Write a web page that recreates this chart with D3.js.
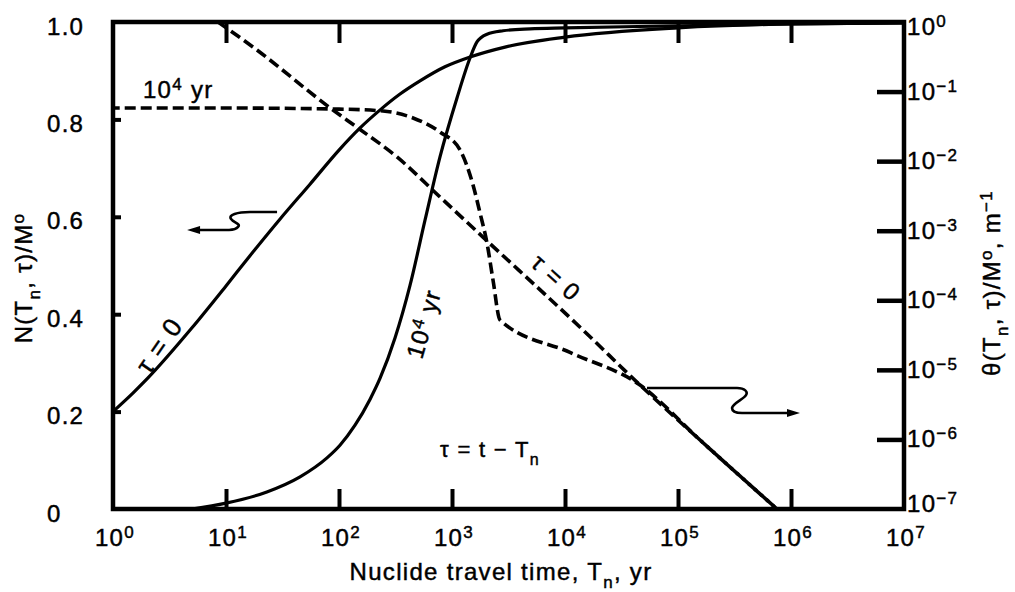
<!DOCTYPE html>
<html><head><meta charset="utf-8">
<script src="https://cdn.jsdelivr.net/npm/d3@7/dist/d3.min.js"></script>
<style>
html,body{margin:0;padding:0;background:#fff;}
svg{display:block;}
text{font-family:"Liberation Sans",Arial,Helvetica,sans-serif;fill:#000;stroke:#000;stroke-width:0.45px;letter-spacing:1.3px;}
</style></head><body>
<svg id="chart" width="1015" height="592"></svg>
<script>
// ---------- tick labels ----------
const xTickValues=[1,10,100,1000,1e4,1e5,1e6,1e7];
const xTickExponents=["0","1","2","3","4","5","6","7"];
const leftTickValues=[0,0.2,0.4,0.6,0.8,1.0];
const leftTickLabels=["0","0.2","0.4","0.6","0.8","1.0"];
const rightTickValues=[1,1e-1,1e-2,1e-3,1e-4,1e-5,1e-6,1e-7];
const rightTickExponents=["0","−1","−2","−3","−4","−5","−6","−7"];

// ---------- solid curves: N(Tn,tau)/M0 (left axis) ----------
const nTau0T=[1,1.5,2,5,10,16.3,30,55.4,100,153,230,347,521,866,1443,3006,1e4,1e5,1e6,1e7];
const nTau0N=[0.2,0.238,0.267,0.372,0.458,0.52,0.595,0.667,0.737,0.782,0.819,0.852,0.879,0.908,0.928,0.949,0.969,0.988,0.996,0.998];
const nTau1e4T=[5,10,23,45.2,78.3,102,138.6,188,230.5,313,425,577,783,1107,1443,1663,2042,2826,4898,1e4,1e5,1e6,1e7];
const nTau1e4N=[0,0.012,0.035,0.066,0.105,0.131,0.172,0.225,0.268,0.351,0.459,0.593,0.723,0.844,0.926,0.959,0.975,0.982,0.986,0.988,0.992,0.996,0.998];

// ---------- dashed curves: theta(Tn,tau)/M0 (right axis) ----------
const thTau0T=[8.5,17.3,88.5,147,326,783,1880,14430,46100,156700,751000];
const thTau0V=[1,0.438,0.0543,0.030,0.0115,3.05e-3,8.1e-4,3.74e-5,6.05e-6,9.8e-7,1e-7];
const thTau1e4T=[1,10,100,245,452,783,1178,1535,1770,2040,2306,2660,11070,46100,156700,751000];
const thTau1e4V=[0.058,0.058,0.056,0.0526,0.0417,0.0262,0.0145,4.54e-3,1.80e-3,6.65e-4,1.96e-4,5.2e-5,1.78e-5,6.05e-6,9.8e-7,1e-7];
const mergeT=46100; // where the two dashed curves coincide

// ---------- texts ----------
const xTitle=[["Nuclide travel time, T"],["n","sub"],[", yr"]];
const leftTitle=[["N(T"],["n","sub"],[", τ)/M"],["o","sup"]];
const rightTitle=[["θ(T"],["n","sub"],[", τ)/M"],["o","sup"],[", m"],["−1","sup"]];
const annotations=[
  {T:1.84,v:0.844,axis:"N",angle:0,anchor:"start",size:24,dy:0,parts:[["10"],["4","sup"],[" yr"]]},
  {T:2.61,v:0.335,axis:"N",angle:-55,anchor:"middle",size:26,dy:8,parts:[["τ = 0"]]},
  {T:565,v:0.38,axis:"N",angle:-74,anchor:"middle",size:24,dy:8,parts:[["10"],["4","sup"],[" yr"]]},
  {T:8320,v:2.09e-4,axis:"th",angle:42,anchor:"middle",size:24,dy:8,parts:[["τ = 0"]]},
  {T:783,v:0.107,axis:"N",angle:0,anchor:"start",size:22,dy:0,parts:[["τ = t − T"],["n","sub"]]}
];
const arrows=[
  {T:28.3,v:0.61,axis:"N",
   path:"M0,0 L-27,0 C-40,0 -49,3 -46,7 C-43,11 -36,12 -39,15 C-41,17.5 -44,18 -48,18 L-78,18",
   head:"M-90,18 L-77,14 L-77,22 Z"},
  {T:53200,v:5.48e-6,axis:"th",
   path:"M0,0 L90,0 C98,0 101,4 99,7 C97,11 86,15 85,20 C85,24 90,25 95,25 L141,25",
   head:"M153,25 L140,21 L140,29 Z"}
];

// ---------- layout ----------
const X0=113,X1=904,Y0=509,Y1=22;
const svg=d3.select("#chart");
const x=d3.scaleLog().domain([1,1e7]).range([X0,X1]);
const yN=d3.scaleLinear().domain([0,1]).range([Y0,Y1]);
const yT=d3.scaleLog().domain([1e-7,1]).range([Y0,Y1]);

svg.append("defs").append("clipPath").attr("id","plot")
  .append("rect").attr("x",X0).attr("y",Y1).attr("width",X1-X0).attr("height",Y0-Y1);

function rich(sel,parts,base){
  let shift=0;
  parts.forEach(p=>{
    const target=p[1]==="sup"?-8:p[1]==="sub"?8:0;
    const ts=sel.append("tspan").text(p[0]).attr("dy",target-shift);
    if(p[1]) ts.attr("font-size",Math.round(base*0.72));
    shift=target;
  });
}

// ---------- curves ----------
const gc=svg.append("g").attr("clip-path","url(#plot)");
const lineN=d3.line().x(d=>x(d[0])).y(d=>yN(d[1])).curve(d3.curveMonotoneX);
const lineTh=d3.line().x(d=>x(d[0])).y(d=>yT(d[1])).curve(d3.curveMonotoneX);

const nTau0=nTau0T.map((t,i)=>[t,nTau0N[i]]);
const nTau1e4=nTau1e4T.map((t,i)=>[t,nTau1e4N[i]]);
const thTau0=thTau0T.map((t,i)=>[t,thTau0V[i]]);
const thTau1e4=thTau1e4T.map((t,i)=>[t,thTau1e4V[i]]);

[nTau0,nTau1e4].forEach(d=>{
  gc.append("path").attr("d",lineN(d)).attr("fill","none").attr("stroke","#000")
    .attr("stroke-width",3.2).attr("stroke-linejoin","round");
});

const DASH=11,GAP=5,P=DASH+GAP;
function lenOf(pts){
  const p=svg.append("path").attr("d",lineTh(pts));
  const L=p.node().getTotalLength(); p.remove(); return L;
}
const L1=lenOf(thTau0.slice(0,thTau0T.indexOf(mergeT)+1));
const L2=lenOf(thTau1e4.slice(0,thTau1e4T.indexOf(mergeT)+1));
const off=(((L1+P/2-L2)%P)+P)%P;

gc.append("path").attr("d",lineTh(thTau0)).attr("fill","none").attr("stroke","#000")
  .attr("stroke-width",3.6).attr("stroke-dasharray",DASH+","+GAP);
gc.append("path").attr("d",lineTh(thTau1e4)).attr("fill","none").attr("stroke","#000")
  .attr("stroke-width",3.6).attr("stroke-dasharray",DASH+","+GAP).attr("stroke-dashoffset",off);

// ---------- axes (ticks) ----------
const tickStyle=(g,w)=>{g.select(".domain").remove();
  g.selectAll(".tick line").attr("stroke","#000").attr("stroke-width",w);
  g.selectAll(".tick text").remove();};
const inner=xTickValues.slice(1,-1);
svg.append("g").attr("transform",`translate(0,${Y0})`)
  .call(d3.axisBottom(x).tickValues(inner).tickSize(-20).tickFormat(()=>"")).call(g=>tickStyle(g,4));
svg.append("g").attr("transform",`translate(0,${Y1})`)
  .call(d3.axisTop(x).tickValues(inner).tickSize(-21).tickFormat(()=>"")).call(g=>tickStyle(g,4));
svg.append("g").attr("transform",`translate(${X0},0)`)
  .call(d3.axisLeft(yN).tickValues(leftTickValues.slice(1,-1)).tickSize(-8).tickFormat(()=>"")).call(g=>tickStyle(g,4));
svg.append("g").attr("transform",`translate(${X1},0)`)
  .call(d3.axisRight(yT).tickValues(rightTickValues.slice(1,-1)).tickSize(-27).tickFormat(()=>"")).call(g=>tickStyle(g,4.5));

// frame
svg.append("rect").attr("x",X0).attr("y",Y1).attr("width",X1-X0).attr("height",Y0-Y1)
  .attr("fill","none").attr("stroke","#000").attr("stroke-width",4.5);

// ---------- tick labels ----------
svg.append("g").selectAll("text").data(xTickValues).join("text")
  .attr("x",d=>x(d)+2).attr("y",546).attr("text-anchor","middle").attr("font-size",24)
  .each(function(d,i){rich(d3.select(this),[["10"],[xTickExponents[i],"sup"]],24);});
svg.append("g").selectAll("text").data(leftTickValues).join("text")
  .attr("x",47).attr("y",d=>yN(d)+12.5).attr("font-size",24)
  .text((d,i)=>leftTickLabels[i]);
svg.append("g").selectAll("text").data(rightTickValues).join("text")
  .attr("x",907).attr("y",d=>Math.max(35,Math.min(512,yT(d)+8))).attr("font-size",24)
  .each(function(d,i){rich(d3.select(this),[["10"],[rightTickExponents[i],"sup"]],24);});

// ---------- axis titles ----------
rich(svg.append("text").attr("x",501).attr("y",580).attr("text-anchor","middle").attr("font-size",24),xTitle,24);
rich(svg.append("text").attr("transform","translate(32,278) rotate(-90)").attr("text-anchor","middle").attr("font-size",24),leftTitle,24);
rich(svg.append("text").attr("transform","translate(1000,283) rotate(-90)").attr("text-anchor","middle").attr("font-size",24),rightTitle,24);

// ---------- annotations ----------
annotations.forEach(a=>{
  const px=x(a.T), py=a.axis==="N"?yN(a.v):yT(a.v);
  const t=svg.append("text").attr("transform",`translate(${px},${py}) rotate(${a.angle})`)
    .attr("y",a.dy).attr("text-anchor",a.anchor).attr("font-size",a.size);
  rich(t,a.parts,a.size);
});
arrows.forEach(a=>{
  const px=x(a.T), py=a.axis==="N"?yN(a.v):yT(a.v);
  const g=svg.append("g").attr("transform",`translate(${px},${py})`);
  g.append("path").attr("d",a.path).attr("fill","none").attr("stroke","#000").attr("stroke-width",2.6);
  g.append("path").attr("d",a.head).attr("fill","#000");
});
</script>
</body></html>
